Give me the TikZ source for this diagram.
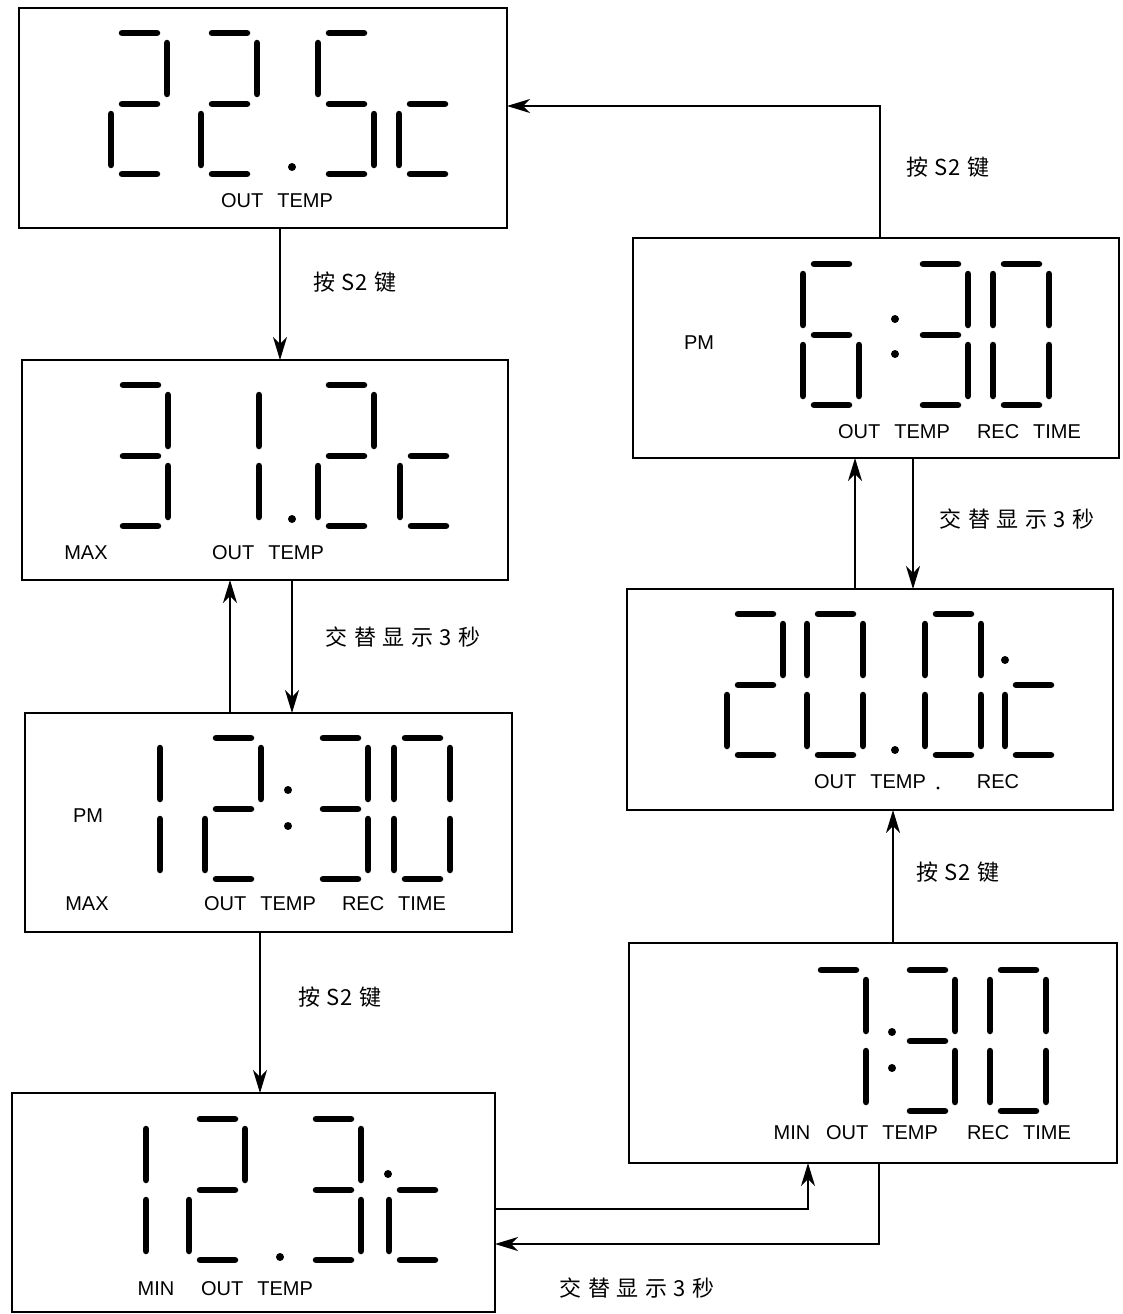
\documentclass[tikz,border=0pt]{standalone}
\usepackage{fontspec}
\setmainfont{Liberation Sans}
\newfontfamily\cjk{Noto Sans CJK SC}
\usetikzlibrary{arrows.meta}

\tikzset{
  box/.style={draw, line width=1.7pt, inner sep=0pt, outer sep=0pt},
  seg/.style={line width=6.5pt, line cap=round},
  lcdtxt/.style={font=\fontsize{20}{20}\selectfont, inner sep=0pt},
  lbl/.style={font=\cjk\fontsize{22}{22}\selectfont, inner sep=0pt},
  arr/.style={line width=1.5pt, -{Stealth[length=23pt,width=14pt,inset=7pt]}},
  wire/.style={line width=1.5pt}
}

\newcommand\SegA{\draw[seg] (11,0) -- (46,0);}
\newcommand\SegB{\draw[seg] (56,10) -- (56,61);}
\newcommand\SegC{\draw[seg] (56,81) -- (56,132);}
\newcommand\SegD{\draw[seg] (11,141) -- (46,141);}
\newcommand\SegE{\draw[seg] (0,81) -- (0,132);}
\newcommand\SegF{\draw[seg] (0,10) -- (0,61);}
\newcommand\SegG{\draw[seg] (11,71) -- (46,71);}
\newcommand\Dig[2]{\begin{scope}[shift={(#1)}]#2\end{scope}}
\newcommand\DZero{\SegA\SegB\SegC\SegD\SegE\SegF}
\newcommand\DOne{\SegB\SegC}
\newcommand\DTwo{\SegA\SegB\SegG\SegE\SegD}
\newcommand\DThree{\SegA\SegB\SegG\SegC\SegD}
\newcommand\DFive{\SegA\SegF\SegG\SegC\SegD}
\newcommand\DSix{\SegA\SegF\SegG\SegE\SegC\SegD}
\newcommand\DSeven{\SegA\SegB\SegC}
\newcommand\DC{\SegG\SegE\SegD}
\newcommand\Pt[1]{\fill (#1) circle (4pt);}
\newcommand\gp{\hspace{6.5pt}}
\newcommand\PressS{按\gp S\hspace{1pt}2\gp 键}
\newcommand\AltShow{交\gp 替\gp 显\gp 示\gp 3\gp 秒}

\begin{document}
\begin{tikzpicture}[x=1pt, y=-1pt]
\useasboundingbox (0,0) rectangle (1122,1314);

% ---------- boxes ----------
\node[box, minimum width=488pt, minimum height=220pt] (b1) at (263,118) {};
\node[box, minimum width=486pt, minimum height=220pt] (b2) at (265,470) {};
\node[box, minimum width=487pt, minimum height=219pt] (b3) at (268.5,822.5) {};
\node[box, minimum width=483pt, minimum height=219pt] (b4) at (253.5,1202.5) {};
\node[box, minimum width=488pt, minimum height=220pt] (b5) at (873,1053) {};
\node[box, minimum width=486pt, minimum height=221pt] (b6) at (870,699.5) {};
\node[box, minimum width=486pt, minimum height=220pt] (b7) at (876,348) {};

% ---------- box 1 : 22.5c ----------
\Dig{111,33}{\DTwo}
\Dig{201,33}{\DTwo}
\Pt{292,167}
\Dig{318,33}{\DFive}
\Dig{399,33}{\DC}
\node[lcdtxt] (t1) at (277,201) {OUT\hspace{0.7em}TEMP};

% ---------- box 2 : 31.2c ----------
\Dig{112,385}{\DThree}
\Dig{203,385}{\DOne}
\Pt{292,519}
\Dig{318,385}{\DTwo}
\Dig{400,385}{\DC}
\node[lcdtxt] (t2a) at (86,553) {MAX};
\node[lcdtxt] (t2b) at (268,553) {OUT\hspace{0.7em}TEMP};

% ---------- box 3 : 12:30 ----------
\Dig{104,738}{\DOne}
\Dig{205,738}{\DTwo}
\Pt{288,790}
\Pt{288,826}
\Dig{312,738}{\DThree}
\Dig{394,738}{\DZero}
\node[lcdtxt] (t3a) at (88,816) {PM};
\node[lcdtxt] (t3b) at (87,904) {MAX};
\node[lcdtxt] (t3c) at (260,904) {OUT\hspace{0.7em}TEMP};
\node[lcdtxt] (t3d) at (394,904) {REC\hspace{0.7em}TIME};

% ---------- box 4 : 12.3c ----------
\Dig{90,1119}{\DOne}
\Dig{189,1119}{\DTwo}
\Pt{280,1257}
\Dig{305,1119}{\DThree}
\Pt{388,1174}
\Dig{389,1119}{\DC}
\node[lcdtxt] (t4a) at (156,1289) {MIN};
\node[lcdtxt] (t4b) at (257,1289) {OUT\hspace{0.7em}TEMP};

% ---------- box 5 : 7:30 ----------
\Dig{810,970}{\DSeven}
\Pt{892,1032}
\Pt{892,1068}
\Dig{899,970}{\DThree}
\Dig{990,970}{\DZero}
\node[lcdtxt] (t5a) at (792,1133) {MIN};
\node[lcdtxt] (t5b) at (882,1133) {OUT\hspace{0.7em}TEMP};
\node[lcdtxt] (t5c) at (1019,1133) {REC\hspace{0.7em}TIME};

% ---------- box 6 : 20.0c ----------
\Dig{727,614}{\DTwo}
\Dig{807,614}{\DZero}
\Pt{895,750}
\Dig{925,614}{\DZero}
\Pt{1005,660}
\Dig{1005,614}{\DC}
\node[lcdtxt] (t6a) at (870,782) {OUT\hspace{0.7em}TEMP};
\fill (938,788) circle (1.6pt);
\node[lcdtxt] (t6b) at (998,782) {REC};

% ---------- box 7 : 6:30 ----------
\Dig{803,264}{\DSix}
\Pt{895,319}
\Pt{895,354}
\Dig{912,264}{\DThree}
\Dig{993,264}{\DZero}
\node[lcdtxt] (t7a) at (699,343) {PM};
\node[lcdtxt] (t7b) at (894,432) {OUT\hspace{0.7em}TEMP};
\node[lcdtxt] (t7c) at (1029,432) {REC\hspace{0.7em}TIME};

% ---------- connector guide coordinates ----------
\coordinate (c12) at (280,0);
\coordinate (u23) at (230,0);
\coordinate (d23) at (292,0);
\coordinate (c34) at (260,0);
\coordinate (k1) at (808,1209);
\coordinate (k2) at (879,1244);
\coordinate (c56) at (893,0);
\coordinate (u67) at (855,0);
\coordinate (d67) at (913,0);
\coordinate (k3) at (880,106);

% ---------- connectors ----------
\draw[arr] (b1.south -| c12) -- (b2.north -| c12);
\draw[arr] (b3.north -| u23) -- (b2.south -| u23);
\draw[arr] (b2.south -| d23) -- (b3.north -| d23);
\draw[arr] (b3.south -| c34) -- (b4.north -| c34);
\draw[arr] (b4.east |- k1) -- (k1) -- (b5.south -| k1);
\draw[arr] (b5.south -| k2) -- (k2) -- (b4.east |- k2);
\draw[arr] (b5.north -| c56) -- (b6.south -| c56);
\draw[arr] (b6.north -| u67) -- (b7.south -| u67);
\draw[arr] (b7.south -| d67) -- (b6.north -| d67);
\draw[arr] (b7.north -| k3) -- (k3) -- (b1.east |- k3);

% ---------- labels ----------
\node[lbl] (l1) at (355,282) {\PressS};
\node[lbl] (l2) at (403,637) {\AltShow};
\node[lbl] (l3) at (340,997) {\PressS};
\node[lbl] (l4) at (637,1288) {\AltShow};
\node[lbl] (l5) at (958,872) {\PressS};
\node[lbl] (l6) at (1017,519) {\AltShow};
\node[lbl] (l7) at (948,167) {\PressS};
\end{tikzpicture}
\end{document}
